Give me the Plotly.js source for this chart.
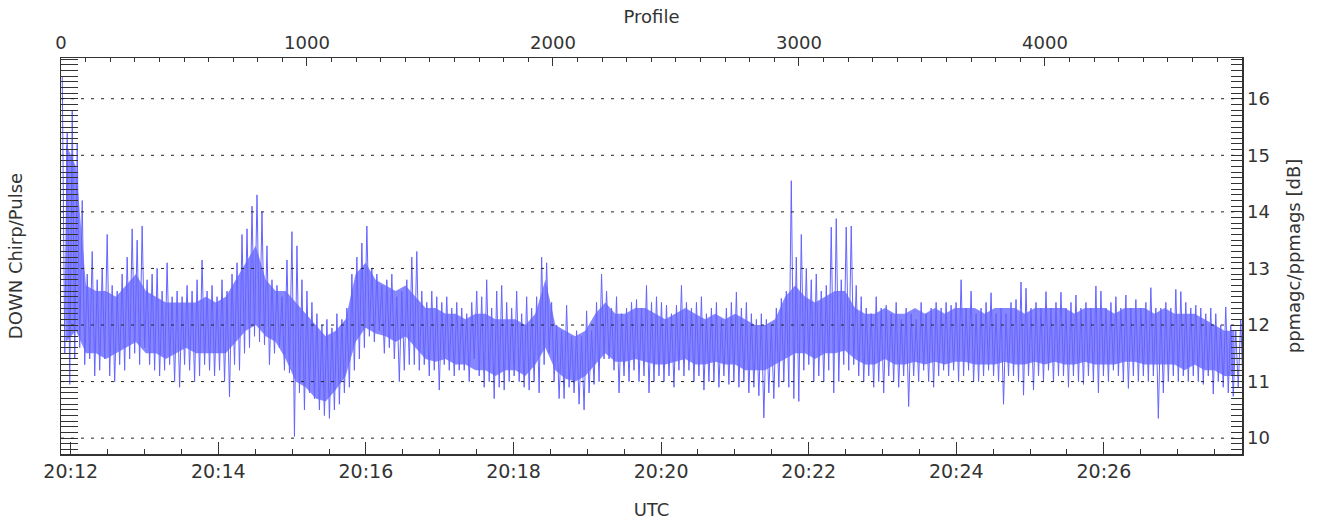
<!DOCTYPE html>
<html>
<head>
<meta charset="utf-8">
<script src="https://cdn.plot.ly/plotly-3.0.1.min.js"></script>
<style>html,body{margin:0;padding:0;background:#fff;}#chart{width:1324px;height:520px;}</style>
</head>
<body>
<div id="chart"></div>
<script>
// Profiles are grouped in consecutive blocks; each block keeps its highest and lowest value (dB)
const PROFILES_PER_BLOCK = 20.3;
const PROFILE_RANGE = [0, 4801];
const UTC_RANGE = ['2024-01-01 20:11:52.1', '2024-01-01 20:27:52.3'];
const UTC_FIRST_TICK = '2024-01-01 20:12:00';
const PROFILE_TICKS = [0, 1000, 2000, 3000, 4000];
const DB_TICKS = [10, 11, 12, 13, 14, 15, 16];
const DB_RANGE = [9.72, 16.72];

const blockHigh = [
  16.4, 15.4, 15.8, 15.2, 14.2, 12.9, 13.3, 12.8, 13.0, 13.6,
  12.7, 12.6, 12.9, 13.2, 13.7, 13.5, 13.75, 12.8, 12.9, 13.0,
  12.6, 13.1, 12.5, 12.6, 12.5, 12.7, 12.6, 12.8, 13.15, 12.6,
  12.7, 12.5, 12.8, 12.6, 12.9, 13.1, 13.6, 13.7, 14.1, 14.3,
  14.0, 13.4, 12.8, 12.7, 12.5, 13.15, 13.65, 13.4, 12.8, 12.6,
  12.4, 12.2, 12.0, 12.1, 11.95, 12.2, 12.1, 12.3, 12.9, 13.2,
  13.45, 13.75, 13.0, 12.9, 12.7, 12.8, 12.9, 12.5, 12.6, 12.8,
  13.2, 13.3, 12.6, 12.4, 12.6, 12.5, 12.4, 12.5, 12.3, 12.4,
  12.3, 12.2, 12.4, 12.6, 12.5, 12.8, 12.3, 12.6, 12.7, 12.4,
  12.3, 12.6, 12.2, 12.5, 12.3, 12.5, 13.2, 13.1, 12.4, 12.0,
  11.9, 12.35, 11.8, 11.9, 11.8, 12.25, 11.9, 12.4, 12.9, 12.6,
  12.3, 12.5, 12.2, 12.3, 12.4, 12.45, 12.3, 12.7, 12.4, 12.5,
  12.4, 12.35, 12.2, 12.35, 12.7, 12.4, 12.3, 12.4, 12.5, 12.2,
  12.3, 12.4, 12.1, 12.3, 12.4, 12.58, 12.3, 12.4, 12.2, 12.1,
  12.2, 12.1, 12.0, 12.3, 12.47, 12.6, 14.55, 13.2, 13.6, 13.0,
  12.8, 12.9, 12.6, 12.7, 13.73, 13.88, 12.8, 13.73, 13.75, 12.7,
  12.5, 12.3, 12.2, 12.5, 12.3, 12.35, 12.2, 12.4, 12.1, 12.3,
  12.2, 12.1, 12.4, 12.2, 12.3, 12.4, 12.3, 12.4, 12.35, 12.4,
  12.8, 12.3, 12.6, 12.2, 12.3, 12.4, 12.57, 12.2, 12.3, 12.2,
  12.4, 12.45, 12.76, 12.65, 12.3, 12.4, 12.3, 12.59, 12.3, 12.4,
  12.58, 12.3, 12.4, 12.53, 12.3, 12.4, 12.3, 12.69, 12.6, 12.3,
  12.4, 12.5, 12.3, 12.53, 12.3, 12.45, 12.3, 12.4, 12.66, 12.3,
  12.3, 12.4, 12.3, 12.63, 12.59, 12.4, 12.3, 12.35, 12.3, 12.2,
  12.3, 12.2, 12.0, 12.32, 12.0, 11.9, 12.1
];
const blockLow = [
  11.5, 10.95, 11.4, 11.6, 11.3, 11.4, 11.1, 11.2, 11.4, 11.1,
  11.0, 11.3, 11.2, 11.4, 11.5, 11.3, 11.6, 11.3, 11.2, 11.1,
  11.2, 11.3, 11.0, 10.9, 11.3, 11.2, 11.0, 11.1, 11.3, 11.2,
  11.1, 11.2, 11.0, 10.73, 11.3, 11.2, 11.5, 11.6, 11.8, 11.7,
  11.65, 11.3, 11.5, 11.6, 11.2, 11.15, 10.03, 10.8, 10.5, 10.8,
  10.7, 10.5, 10.4, 10.35, 10.5, 10.6, 10.8, 10.9, 11.2, 11.4,
  11.6, 11.8, 11.7, 11.9, 11.5, 11.6, 11.4, 11.0, 11.2, 11.3,
  11.3, 11.2, 11.3, 11.1, 11.2, 10.85, 11.3, 11.2, 11.1, 11.2,
  11.2, 11.0, 11.4, 11.1, 10.9, 11.0, 10.7, 10.9, 10.85, 11.0,
  11.1, 11.0, 10.9, 10.85, 11.0, 10.8, 11.3, 11.5, 11.0, 10.7,
  10.7, 10.9, 10.8, 10.6, 10.5, 10.8, 10.95, 11.0, 11.4, 11.4,
  11.2, 10.8, 11.1, 11.0, 11.2, 11.0, 11.1, 10.8, 11.0, 11.1,
  11.0, 11.1, 10.9, 11.2, 11.1, 11.2, 11.0, 11.1, 10.85, 11.0,
  11.0, 10.9, 11.1, 10.95, 11.0, 10.9, 11.0, 10.8, 10.9, 10.75,
  10.36, 10.8, 10.7, 10.9, 11.0, 10.9, 10.7, 10.65, 11.2, 11.3,
  11.0, 11.1, 11.0, 11.2, 10.8, 11.0, 11.3, 11.2, 11.3, 11.1,
  11.0, 11.1, 10.9, 11.0, 10.8, 11.1, 11.0, 10.9, 11.1, 10.56,
  11.1, 11.0, 11.2, 11.0, 10.9, 11.1, 11.2, 11.1, 11.2, 11.0,
  11.1, 11.2, 11.0, 11.0, 11.1, 11.2, 11.1, 11.0, 10.6, 11.1,
  11.1, 11.0, 10.76, 11.1, 10.85, 11.1, 11.0, 11.2, 11.0, 11.1,
  11.1, 10.9, 11.1, 11.0, 10.95, 11.1, 11.0, 10.8, 11.1, 11.0,
  11.2, 11.1, 11.0, 10.88, 11.1, 11.0, 11.1, 11.0, 11.1, 10.35,
  10.8, 11.0, 11.1, 11.0, 11.1, 11.0, 11.1, 11.0, 10.95, 11.1,
  10.78, 11.0, 10.9, 10.8, 10.74, 10.9, 10.8
];

// dense core of the signal, one pair per two blocks (dB)
const coreHigh = [
  15.2, 14.8, 12.7, 12.6, 12.6, 12.5, 12.7, 12.9, 12.6, 12.5,
  12.4, 12.4, 12.4, 12.4, 12.5, 12.4, 12.5, 12.8, 13.1, 13.4,
  12.8, 12.6, 12.6, 12.4, 12.2, 12.0, 11.8, 11.9, 12.1, 12.9,
  13.1, 12.8, 12.7, 12.6, 12.7, 12.5, 12.3, 12.3, 12.2, 12.2,
  12.1, 12.2, 12.2, 12.1, 12.1, 12.1, 12.0, 12.2, 12.8, 12.0,
  11.9, 11.8, 11.9, 12.2, 12.4, 12.2, 12.2, 12.3, 12.3, 12.2,
  12.1, 12.2, 12.3, 12.2, 12.1, 12.2, 12.1, 12.2, 12.1, 12.0,
  12.0, 12.1, 12.5, 12.7, 12.5, 12.4, 12.5, 12.6, 12.6, 12.3,
  12.2, 12.2, 12.3, 12.2, 12.2, 12.3, 12.2, 12.3, 12.2, 12.3,
  12.3, 12.3, 12.2, 12.3, 12.3, 12.3, 12.2, 12.3, 12.3, 12.3,
  12.3, 12.2, 12.3, 12.3, 12.3, 12.2, 12.3, 12.3, 12.3, 12.2,
  12.3, 12.2, 12.2, 12.2, 12.1, 12.0, 11.9, 11.9
];
const coreLow = [
  11.7, 11.9, 11.5, 11.5, 11.4, 11.5, 11.6, 11.7, 11.5, 11.5,
  11.4, 11.5, 11.6, 11.5, 11.5, 11.5, 11.5, 11.7, 11.9, 12.0,
  11.8, 11.7, 11.4, 11.0, 10.9, 10.7, 10.65, 10.85, 11.1, 11.7,
  11.95, 11.85, 11.8, 11.7, 11.8, 11.6, 11.4, 11.35, 11.4, 11.3,
  11.3, 11.2, 11.2, 11.1, 11.2, 11.2, 11.1, 11.3, 11.6, 11.2,
  11.05, 11.0, 11.1, 11.3, 11.5, 11.35, 11.35, 11.4, 11.35, 11.3,
  11.3, 11.35, 11.4, 11.3, 11.3, 11.35, 11.3, 11.3, 11.2, 11.2,
  11.2, 11.3, 11.4, 11.5, 11.5, 11.4, 11.5, 11.5, 11.55, 11.4,
  11.3, 11.3, 11.4, 11.3, 11.3, 11.35, 11.3, 11.35, 11.3, 11.35,
  11.35, 11.3, 11.3, 11.3, 11.35, 11.3, 11.3, 11.35, 11.3, 11.35,
  11.3, 11.3, 11.35, 11.3, 11.3, 11.3, 11.35, 11.35, 11.3, 11.3,
  11.3, 11.3, 11.2, 11.3, 11.2, 11.2, 11.1, 11.1
];

// envelope line: within every block the line runs from its high to its low
const px = [], py = [];
for (let j = 0; j < blockHigh.length; j++) {
  px.push((j + 0.25) * PROFILES_PER_BLOCK); py.push(blockHigh[j]);
  px.push((j + 0.75) * PROFILES_PER_BLOCK); py.push(blockLow[j]);
}
const cx = coreHigh.map((v, k) => (2 * k + 1) * PROFILES_PER_BLOCK);

const blue = '#6464ff';
const axisColor = '#333';
const traces = [
  {type: 'scatter', mode: 'lines', x: cx, y: coreLow, xaxis: 'x', yaxis: 'y',
   line: {width: 0, color: blue}, hoverinfo: 'skip', showlegend: false},
  {type: 'scatter', mode: 'lines', x: cx, y: coreHigh, xaxis: 'x', yaxis: 'y',
   line: {width: 0, color: blue}, fill: 'tonexty', fillcolor: 'rgba(100,100,255,0.78)',
   hoverinfo: 'skip', showlegend: false},
  {type: 'scatter', mode: 'lines', x: px, y: py, xaxis: 'x', yaxis: 'y',
   line: {color: blue, width: 1}, hoverinfo: 'skip', showlegend: false},
  // anchors so that the UTC axis and the left axis are drawn
  {type: 'scatter', mode: 'lines', x: UTC_RANGE, y: [null, null], xaxis: 'x2', yaxis: 'y',
   showlegend: false, hoverinfo: 'skip'},
  {type: 'scatter', mode: 'lines', x: PROFILE_RANGE, y: [null, null], xaxis: 'x', yaxis: 'y2',
   showlegend: false, hoverinfo: 'skip'}
];

const layout = {
  width: 1324, height: 520,
  margin: {l: 61, r: 82, t: 58, b: 66, pad: 0},
  paper_bgcolor: '#fff', plot_bgcolor: '#fff',
  font: {family: 'DejaVu Sans, sans-serif', size: 18, color: '#333'},
  showlegend: false,
  xaxis: {
    side: 'top', range: PROFILE_RANGE, tickmode: 'array', tickvals: PROFILE_TICKS,
    ticks: 'inside', ticklen: 8, tickcolor: axisColor, tickwidth: 1,
    minor: {dtick: 100, tick0: 0, ticks: 'inside', ticklen: 4, tickcolor: axisColor},
    showline: true, linecolor: axisColor, linewidth: 1.5, showgrid: false, zeroline: false,
    title: {text: 'Profile', standoff: 4, font: {size: 18}}, tickfont: {size: 18}
  },
  xaxis2: {
    overlaying: 'x', side: 'bottom', type: 'date', range: UTC_RANGE,
    tick0: UTC_FIRST_TICK, dtick: 120000, tickformat: '%H:%M',
    ticks: 'inside', ticklen: 12, tickcolor: axisColor,
    minor: {dtick: 30000, tick0: UTC_FIRST_TICK, ticks: 'inside', ticklen: 5, tickcolor: axisColor},
    showline: true, linecolor: axisColor, linewidth: 1.5, showgrid: false, zeroline: false,
    title: {text: 'UTC', standoff: 22, font: {size: 18}}, tickfont: {size: 19}
  },
  yaxis: {
    side: 'right', range: DB_RANGE, tickmode: 'array', tickvals: DB_TICKS,
    ticks: 'inside', ticklen: 11, tickcolor: axisColor,
    minor: {dtick: 0.1, tick0: 10, ticks: 'inside', ticklen: 11, tickcolor: axisColor},
    showline: true, linecolor: axisColor, linewidth: 1.5, showgrid: false, zeroline: false,
    title: {text: 'ppmagc/ppmags [dB]', standoff: 18, font: {size: 18}}, tickfont: {size: 18}
  },
  yaxis2: {
    overlaying: 'y', side: 'left', range: DB_RANGE, tickmode: 'linear', tick0: 10, dtick: 0.1,
    ticks: 'inside', ticklen: 17, tickcolor: axisColor, showticklabels: false,
    showline: true, linecolor: axisColor, linewidth: 1.5, showgrid: false, zeroline: false,
    title: {text: 'DOWN Chirp/Pulse', standoff: 32, font: {size: 18}}
  },
  shapes: DB_TICKS.map(v => ({
    type: 'line', xref: 'paper', x0: 0, x1: 1, yref: 'y', y0: v, y1: v, layer: 'above',
    line: {color: '#222', width: 1, dash: '3px,7px'}
  }))
};

Plotly.newPlot('chart', traces, layout, {staticPlot: true, displayModeBar: false});
</script>
</body>
</html>
